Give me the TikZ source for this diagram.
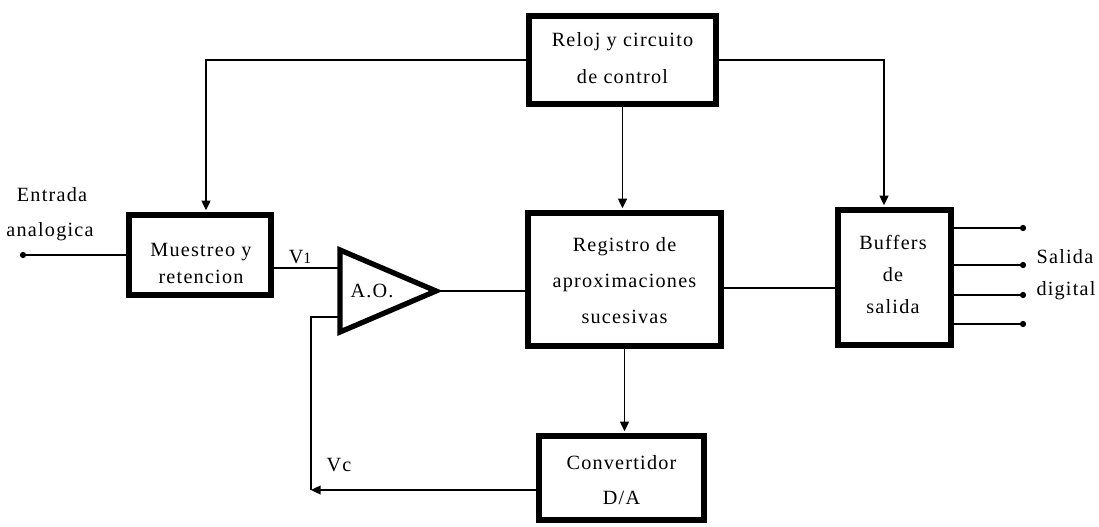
\documentclass[tikz,border=0pt]{standalone}
\usepackage{fontspec}
\setmainfont{Liberation Serif}[LetterSpace=6]
\usetikzlibrary{arrows.meta,calc}
\begin{document}
\begin{tikzpicture}[x=0.02cm,y=-0.02cm,
  blk/.style={draw,line width=3.4pt,inner sep=0pt},
  txt/.style={align=center,font=\fontsize{11.5}{20.5}\selectfont,inner sep=0pt},
  wire/.style={line width=1.1pt},
  arr/.style={wire,-{Triangle[length=5.5pt,width=5pt]},shorten >=1pt},
  dot/.style={circle,fill,inner sep=0pt,minimum size=3.6pt}]

\useasboundingbox (0,0) rectangle (1099,527);

% blocks
\node[blk,minimum width=3.74cm,minimum height=1.76cm] (rel) at (622.5,60) {};
\node[blk,minimum width=2.84cm,minimum height=1.6cm] (mr) at (200,255) {};
\node[blk,minimum width=3.86cm,minimum height=2.66cm] (reg) at (624.5,279.5) {};
\node[blk,minimum width=2.26cm,minimum height=2.7cm] (buf) at (894.5,277.5) {};
\node[blk,minimum width=3.3cm,minimum height=1.68cm] (dac) at (621.5,478) {};

% block texts
\node[txt,font=\fontsize{11.5}{21}\selectfont] (relT) at (622.5,58.5) {Reloj y circuito\\de control};
\node[txt,font=\fontsize{11.5}{15.5}\selectfont] (mrT) at (201,263.5) {Muestreo y\\retencion};
\node[txt] (regT) at (624.5,281) {Registro de\\aproximaciones\\sucesivas};
\node[txt,font=\fontsize{11.5}{18}\selectfont] (bufT) at (893,274.5) {Buffers\\de\\salida};
\node[txt,font=\fontsize{11.5}{20}\selectfont] (dacT) at (621.5,480.5) {Convertidor\\D/A};

% comparator (operational amplifier)
\coordinate (aoA) at (340,250);
\coordinate (aoB) at (340,332);
\coordinate (aoC) at (436,291);
\draw[line width=3pt,line join=miter] (aoA) -- (aoC) -- (aoB) -- cycle;
\node[txt] (ao) at (372,291) {A.O.};
\coordinate (aoP) at (340,268);
\coordinate (aoM) at (340,317);
\coordinate (fb) at (311,490);

% analog input
\coordinate (in) at (23,255);
\draw[wire] (in) -- (mr.west);
\node[dot] (inDot) at (in) {};

% signal path
\draw[wire] (aoP -| mr.east) -- (aoP);
\draw[wire] (aoC) -- (aoC -| reg.west);
\coordinate (rb) at ($(reg.east)+(0,8.5)$);
\draw[wire] (rb) -- (rb -| buf.west);

% control lines
\draw[arr] (rel.south) -- (rel.south |- reg.north);
\draw[arr] (rel.west) -| ($(mr.north)+(6,0)$);
\draw[arr] (rel.east) -| ($(buf.north)+(-10.5,0)$);
\draw[arr] (reg.south) -- (reg.south |- dac.north);

% feedback from the D/A converter
\draw[wire] (aoM) -| (fb);
\draw[wire,-{Triangle[length=5.5pt,width=5pt]}] ($(dac.west)+(0,12)$) -- (fb);

% digital outputs
\foreach \yy [count=\i] in {228,265,295,324} {
  \coordinate (o\i) at (1023,\yy);
  \draw[wire] (o\i -| buf.east) -- (o\i);
  \node[dot] (d\i) at (o\i) {};
}

% labels
\node[txt] (lin1) at (52,195) {Entrada};
\node[txt] (lin2) at (50,232) {analogica};
\node[txt] (lout1) at (1065,257) {Salida};
\node[txt] (lout2) at (1066,291) {digital};
\node[txt] (lv1) at (300,257) {V{\fontsize{9}{9}\selectfont 1}};
\node[txt] (lvc) at (339,465) {Vc};
\end{tikzpicture}
\end{document}
